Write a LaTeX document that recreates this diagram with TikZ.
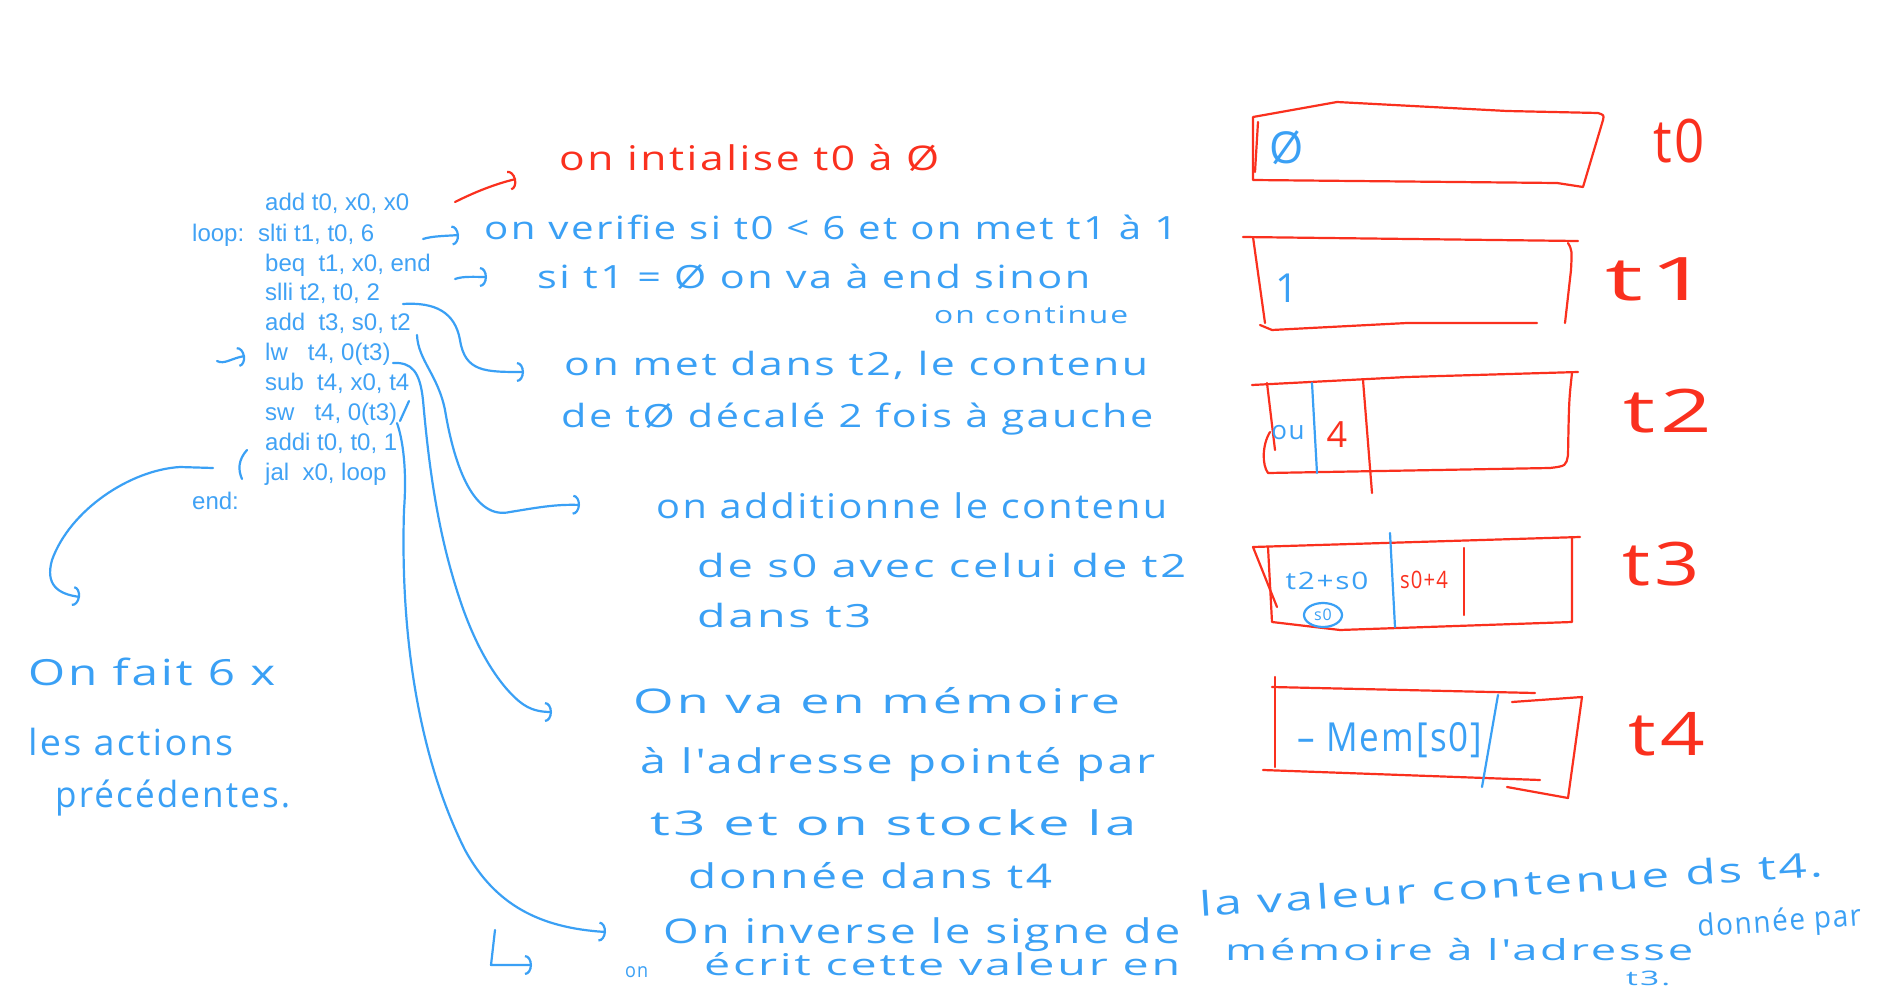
\documentclass[tikz,border=0pt]{standalone}
\usepackage{fontspec}
\usepackage{graphicx}
\usetikzlibrary{arrows.meta}
\setmainfont{Open Sans}
\newfontfamily\handfont{Open Sans}[LetterSpace=6]
\newfontfamily\codefont{Liberation Sans}
\definecolor{hblue}{RGB}{58,160,245}
\definecolor{hred}{RGB}{250,48,30}
\definecolor{cblue}{RGB}{64,162,245}
\newcommand\fitw[2]{\resizebox{#1pt}{\height}{#2}}
\newcommand\hsz[1]{\fontsize{#1}{#1}\selectfont}
\begin{document}
\begin{tikzpicture}[x=1pt,y=-1pt,
  hb/.style={text=hblue,inner sep=0pt,anchor=base west,font=\handfont},
  hr/.style={text=hred,inner sep=0pt,anchor=base west,font=\handfont},
  hbc/.style={text=hblue,inner sep=0pt,anchor=center,font=\handfont},
  hrc/.style={text=hred,inner sep=0pt,anchor=center,font=\handfont},
  cd/.style={text=cblue,inner sep=0pt,anchor=base west,font={\codefont\fontsize{24}{24}\selectfont}},
  pen/.style={draw=hblue,line width=2.2pt,line cap=round,line join=round},
  rpen/.style={draw=hred,line width=2.2pt,line cap=round,line join=round},
  hook/.style={-{Arc Barb[length=7pt,width=20pt,line width=2.2pt]}},
]
\fill[white] (0,0) rectangle (1893,995);
\useasboundingbox (0,0) rectangle (1893,995);

% ---------- code ----------
\node[cd] (c1) at (265,211) {add t0, x0, x0};
\node[cd] (lp) at (192,241) {loop:};
\node[cd] (c2) at (258,241) {slti t1, t0, 6};
\node[cd] (c3) at (265,271) {beq\ \ t1, x0, end};
\node[cd] (c4) at (265,300) {slli t2, t0, 2};
\node[cd] (c5) at (265,330) {add\ \ t3, s0, t2};
\node[cd] (c6) at (265,360) {lw\ \ \ t4, 0(t3)};
\node[cd] (c7) at (265,390) {sub\ \ t4, x0, t4};
\node[cd] (c8) at (265,420) {sw\ \ \ t4, 0(t3)};
\node[cd] (c9) at (265,450) {addi t0, t0, 1};
\node[cd] (c10) at (265,480) {jal\ \ x0, loop};
\node[cd] (c11) at (192,509) {end:};

% ---------- explanations ----------
\node[hr] (r0) at (559,171) {\hsz{34}\fitw{380}{on intialise t0 à Ø}};
\node[hb] (b1) at (484,240) {\hsz{32}\fitw{693}{on verifie si t0 < 6 et on met t1 à 1}};
\node[hb] (b2) at (537,288) {\hsz{32}\fitw{553}{si t1 = Ø on va à end sinon}};
\node[hb] (b3) at (934,323) {\hsz{24}\fitw{194}{on continue}};
\node[hb] (b4) at (564,375) {\hsz{32}\fitw{584}{on met dans t2, le contenu}};
\node[hb] (b5) at (561,427) {\hsz{32}\fitw{592}{de tØ décalé 2 fois à gauche}};
\node[hb] (b6) at (656,518) {\hsz{34}\fitw{511}{on additionne le contenu}};
\node[hb] (b7) at (697,577) {\hsz{32}\fitw{489}{de s0 avec celui de t2}};
\node[hb] (b8) at (697,627) {\hsz{32}\fitw{174}{dans t3}};
\node[hb] (b9) at (633,713) {\hsz{34}\fitw{487}{On va en mémoire}};
\node[hb] (b10) at (640,773) {\hsz{34}\fitw{515}{à l'adresse pointé par}};
\node[hb] (b11) at (650,835) {\hsz{34}\fitw{486}{t3 et on stocke la}};
\node[hb] (b12) at (688,888) {\hsz{34}\fitw{364}{donnée dans t4}};
\node[hb] (b13) at (663,943) {\hsz{34}\fitw{517}{On inverse le signe de}};
\node[hb,rotate=3.7] (b14) at (1200,917) {\hsz{34}\fitw{625}{la valeur contenue ds t4.}};
\node[hb] (b15) at (625,977) {\hsz{20}\fitw{23}{on}};
\node[hb] (b16) at (704,975) {\hsz{30}\fitw{476}{écrit cette valeur en}};
\node[hb] (b17) at (1225,960) {\hsz{29}\fitw{468}{mémoire à l'adresse}};
\node[hb,rotate=4] (b18) at (1698,937) {\hsz{30}\fitw{164}{donnée par}};
\node[hb] (b19) at (1626,985) {\hsz{20}\fitw{44}{t3.}};
\node[hb] (l1) at (28,685) {\hsz{36}\fitw{247}{On fait 6 x}};
\node[hb] (l2) at (28,755) {\hsz{36}\fitw{205}{les actions}};
\node[hb] (l3) at (55,807) {\hsz{36}\fitw{235}{précédentes.}};

% ---------- connectors ----------
\coordinate (sR) at (455,202); \coordinate (eR) at (516,179);
\draw[rpen,hook] (sR) .. controls (475,192) and (495,184) .. (eR);
\coordinate (s1) at (423,239); \coordinate (e1) at (459,235);
\draw[pen,hook] (s1) .. controls (432,236) and (445,236) .. (e1);
\coordinate (s2) at (455,279); \coordinate (e2) at (487,277);
\draw[pen,hook] (s2) .. controls (463,276) and (475,277) .. (e2);
\coordinate (sA) at (403,304); \coordinate (eA) at (524,372);
\draw[pen,hook] (sA) .. controls (435,302) and (455,312) .. (460,340) .. controls (465,372) and (485,372) .. (eA);
\coordinate (sB) at (417,335); \coordinate (eB) at (580,505);
\draw[pen,hook] (sB) .. controls (418,360) and (438,375) .. (445,410) .. controls (455,470) and (475,520) .. (510,512) .. controls (535,508) and (555,504) .. (eB);
\coordinate (sC) at (393,363); \coordinate (eC) at (552,712);
\draw[pen,hook] (sC) .. controls (412,362) and (420,372) .. (423,400) .. controls (430,480) and (440,540) .. (460,600) .. controls (480,660) and (505,690) .. (520,702) .. controls (530,710) and (540,712) .. (eC);
\coordinate (sD) at (397,423); \coordinate (eD) at (606,932);
\draw[pen,hook] (sD) .. controls (403,440) and (407,470) .. (404,510) .. controls (400,640) and (420,760) .. (465,850) .. controls (495,905) and (540,928) .. (eD);
\coordinate (sW) at (400,421); \coordinate (eW) at (409,401);
\draw[pen] (sW) -- (eW);
\coordinate (sE) at (213,468); \coordinate (eE) at (80,597);
\draw[pen,hook] (sE) -- (180,467) .. controls (130,470) and (70,510) .. (52,560) .. controls (45,585) and (58,594) .. (eE);
\coordinate (sF) at (217,361); \coordinate (eF) at (245,356);
\draw[pen,hook] (sF) .. controls (224,365) and (232,358) .. (eF);
\coordinate (sP) at (247,450); \coordinate (eP) at (242,479);
\draw[pen] (sP) .. controls (238,460) and (238,470) .. (eP);
\coordinate (sL) at (495,930); \coordinate (eL) at (532,965);
\draw[pen,hook] (sL) -- (491,965) -- (eL);

% ---------- registers ----------
% t0
\draw[rpen] (1253,117) -- (1337,102) -- (1507,111) -- (1598,113) .. controls (1604,115) .. (1603,120) -- (1583,187) -- (1557,183) -- (1253,180) -- cycle;
\draw[rpen] (1258,122) -- (1255,172);
\node[hbc] (v0) at (1287,148) {\hsz{44}Ø};
% t1
\draw[rpen] (1243,237) -- (1578,241);
\draw[rpen] (1253,237) -- (1265,323);
\draw[rpen] (1568,243) .. controls (1572,250) .. (1571,270) -- (1565,323);
\draw[rpen] (1537,323) -- (1407,323) -- (1272,330) -- (1260,325);
\node[hbc] (v1) at (1287,288) {\hsz{40}1};
% t2
\draw[rpen] (1252,385) -- (1407,377) -- (1578,372);
\draw[rpen] (1572,373) .. controls (1569,400) .. (1568,455) .. controls (1566,466) .. (1550,468) -- (1268,473) .. controls (1262,465) and (1262,445) .. (1270,432);
\draw[rpen] (1267,383) -- (1275,450);
\draw[pen] (1312,383) -- (1317,473);
\draw[rpen] (1363,380) -- (1372,493);
\node[hbc] (v2a) at (1288,433) {\hsz{26}ou};
\node[hrc] (v2b) at (1337,435) {\hsz{36}4};
% t3
\draw[rpen] (1253,547) -- (1580,537);
\draw[rpen] (1572,537) -- (1572,622) -- (1340,630) -- (1272,622) -- (1268,547);
\draw[rpen] (1253,547) -- (1277,607);
\draw[pen] (1390,533) -- (1395,627);
\draw[rpen] (1464,548) -- (1464,615);
\node[hbc] (v3a) at (1327,581) {\hsz{24}\fitw{83}{t2+s0}};
\node[hbc] (v3b) at (1323,615) {\hsz{16}s0};
\draw[pen] (v3b) ellipse [x radius=19pt, y radius=12pt];
\node[hrc] (v3c) at (1424,580) {\hsz{24}\fitw{48}{s0+4}};
% t4
\draw[rpen] (1272,687) -- (1535,693);
\draw[rpen] (1512,702) -- (1582,697) -- (1568,798) -- (1507,787);
\draw[rpen] (1263,770) -- (1540,780);
\draw[rpen] (1275,677) -- (1275,767);
\draw[pen] (1498,695) -- (1482,787);
\node[hbc] (v4) at (1390,740) {\hsz{40}\fitw{185}{– Mem[s0]}};

% ---------- register names ----------
\node[hr] (n0) at (1653,163) {\hsz{60}\fitw{52}{t0}};
\node[hr] (n1) at (1605,300) {\hsz{60}\fitw{105}{t1}};
\node[hr] (n2) at (1623,432) {\hsz{60}\fitw{89}{t2}};
\node[hr] (n3) at (1622,585) {\hsz{60}\fitw{78}{t3}};
\node[hr] (n4) at (1628,755) {\hsz{60}\fitw{77}{t4}};
\end{tikzpicture}
\end{document}
